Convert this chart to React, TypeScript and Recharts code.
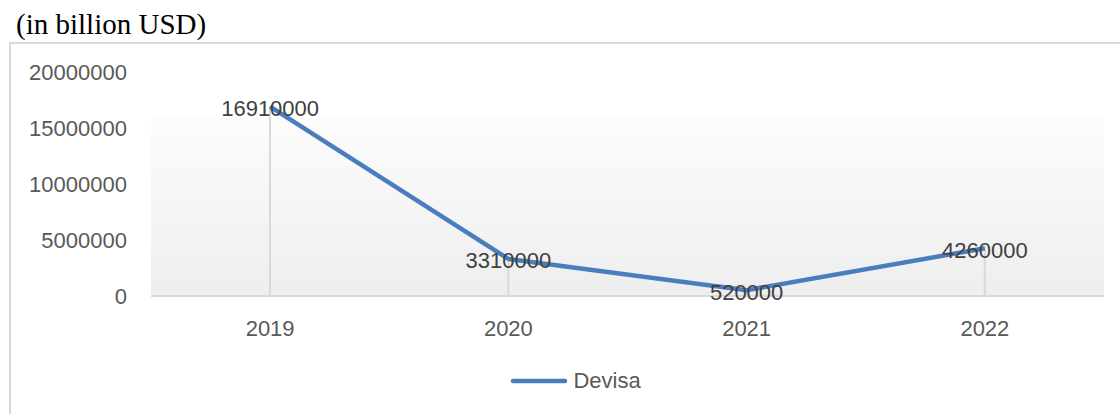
import React from 'react';
import { ComposedChart, Line, Bar, XAxis, YAxis, CartesianGrid, LabelList, Legend } from 'recharts';

const years = ['2019', '2020', '2021', '2022'];
const devisa = [16910000, 3310000, 520000, 4260000];
const yTicks = [0, 5000000, 10000000, 15000000, 20000000];
const seriesName = 'Devisa';
const title = '(in billion USD)';

const data = years.map((y, i) => ({ year: y, value: devisa[i] }));

const FONT = '"Liberation Sans", Arial, sans-serif';

const renderLabel = (props: any) => {
  const { x, y, value } = props;
  return (
    <text x={x} y={y + 2} textAnchor="middle" dominantBaseline="central" fill="#404040" fontSize={22} fontFamily={FONT}>
      {value}
    </text>
  );
};

const renderLegend = () => (
  <div style={{ height: 26, paddingLeft: 20, display: 'flex', justifyContent: 'center', alignItems: 'center', fontFamily: FONT, fontSize: 22, color: '#595959' }}>
    <svg width={60} height={10} style={{ marginRight: 4 }}>
      <line x1={4} y1={5} x2={56} y2={5} stroke="#4a7dbd" strokeWidth={4.5} strokeLinecap="round" />
    </svg>
    <span>{seriesName}</span>
  </div>
);

export default function App() {
  return (
    <div style={{ position: 'absolute', left: 0, top: 0, width: 1120, height: 414, background: '#fff', overflow: 'hidden' }}>
      <div style={{ position: 'absolute', left: 16, top: 7, fontFamily: '"Liberation Serif", "Times New Roman", serif', fontSize: 29, lineHeight: '34px', color: '#000', whiteSpace: 'nowrap' }}>
        {title}
      </div>
      <div style={{ position: 'absolute', left: 9, top: 42, width: 1120, height: 380, borderLeft: '2px solid #d9d9d9', borderTop: '2px solid #d9d9d9' }} />
      <div style={{ position: 'absolute', left: 10, top: 43 }}>
        <ComposedChart width={1110} height={371} data={data} margin={{ top: 29, right: 16, left: 0, bottom: 62 }}>
          <defs>
            <linearGradient id="plotBg" x1="0" y1="0" x2="0" y2="1">
              <stop offset="0" stopColor="#ffffff" />
              <stop offset="0.2" stopColor="#ffffff" />
              <stop offset="0.21" stopColor="#fcfcfc" />
              <stop offset="1" stopColor="#eeeeee" />
            </linearGradient>
          </defs>
          <CartesianGrid horizontal={false} vertical={false} fill="url(#plotBg)" />
          <XAxis
            dataKey="year"
            scale="band"
            height={30}
            axisLine={{ stroke: '#d9d9d9', strokeWidth: 2 }}
            tickLine={false}
            tickSize={6}
            tickMargin={18}
            tick={{ fill: '#595959', fontSize: 22, fontFamily: FONT }}
          />
          <YAxis
            width={141}
            domain={[0, 20000000]}
            ticks={yTicks}
            axisLine={false}
            tickLine={false}
            tickSize={6}
            tickMargin={18}
            interval={0}
            tick={{ fill: '#595959', fontSize: 22, fontFamily: FONT }}
          />
          <Bar dataKey="value" barSize={2} fill="#d9d9d9" isAnimationActive={false} legendType="none" />
          <Line
            type="linear"
            dataKey="value"
            name={seriesName}
            stroke="#4a7dbd"
            strokeWidth={4.5}
            dot={false}
            isAnimationActive={false}
          >
            <LabelList dataKey="value" content={renderLabel} />
          </Line>
          <Legend content={renderLegend} wrapperStyle={{ position: 'absolute', top: 325, left: 0, width: 1110, height: 26 }} />
        </ComposedChart>
      </div>
    </div>
  );
}
